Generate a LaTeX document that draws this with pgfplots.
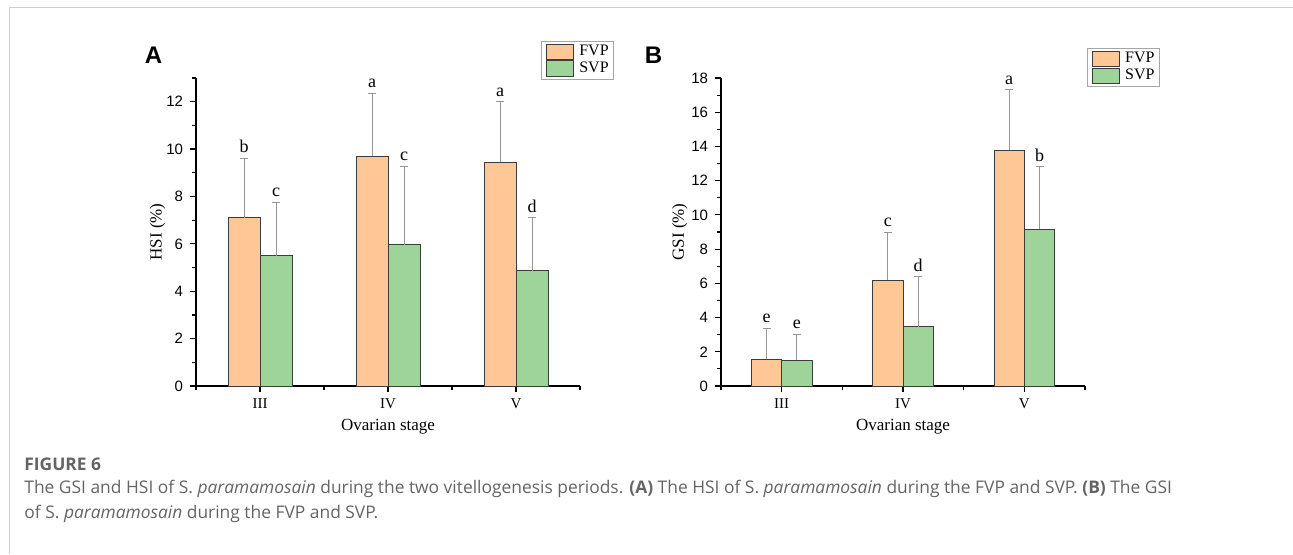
\documentclass[border=0pt]{standalone}
\usepackage{fontspec}
\usepackage{pgfplots}
\pgfplotsset{compat=1.18}
\setmainfont{Liberation Serif}
\newfontfamily\arialf{Liberation Sans}
\newfontfamily\capf{Open Sans}
\definecolor{fvp}{RGB}{255,199,150}
\definecolor{svp}{RGB}{158,212,154}
\definecolor{edge}{RGB}{60,60,60}
\definecolor{ebar}{RGB}{150,150,150}
\definecolor{frame}{RGB}{205,205,205}
\definecolor{captxt}{RGB}{100,100,100}
\tikzset{lettr/.style={anchor=south, font=\fontsize{9}{10}\selectfont, inner sep=1pt, yshift=1.5pt}}
\pgfplotsset{
  mybar/.style={
    scale only axis, clip=false,
    axis x line*=bottom, axis y line*=left,
    axis line style={line width=0.75pt, black},
    xmin=-0.5, xmax=2.5, ymin=0,
    xtick={0,1,2}, xticklabels={III,IV,V},
    minor xtick={-0.5,0.5,1.5,2.5},
    tick align=outside,
    major tick length=3pt, minor tick length=1.8pt,
    every tick/.style={black, line width=0.6pt},
    ybar=0pt, bar width=0.25,
    xticklabel style={font=\fontsize{7.5}{8}\selectfont},
    yticklabel style={font=\arialf\fontsize{7.5}{8}\selectfont},
    /pgf/number format/assume math mode=true,
    label style={font=\fontsize{8.5}{10}\selectfont},
    xlabel style={at={(axis description cs:0.5,0)}, anchor=center, yshift=-20.5pt},
    error bars/y dir=plus, error bars/y explicit,
    error bars/error bar style={ebar, line width=0.5pt},
    error bars/error mark options={rotate=90, ebar, mark size=2pt, line width=0.5pt},
    legend style={draw=gray!70, line width=0.5pt, font=\fontsize{8}{9}\selectfont,
      inner xsep=2pt, inner ysep=1pt, row sep=0pt, legend cell align=left,
      nodes={inner ysep=0.3pt, inner xsep=0.5pt, text height=5.8pt, text depth=2pt}},
    legend image code/.code={\draw[##1] (0pt,-3.9pt) rectangle (13.5pt,3.9pt); \path (-0.5pt,0) (15.5pt,0);},
  },
  fvpbar/.style={fill=fvp, draw=edge, line width=0.5pt},
  svpbar/.style={fill=svp, draw=edge, line width=0.5pt},
}
\begin{document}
\begin{tikzpicture}
\path[use as bounding box] (0,0) rectangle (646.5pt,277pt);
\draw[frame, line width=0.75pt] (4.75pt,0) -- (4.75pt,273.25pt) -- (646.5pt,273.25pt);

% Panel A
\begin{axis}[mybar, at={(98pt,84pt)}, anchor=south west,
  width=192pt, height=154pt, ymax=13,
  ytick={0,2,...,12}, minor ytick={1,3,...,13},
  ylabel={HSI (\%)}, xlabel={Ovarian stage},
  ylabel style={at={(axis description cs:-0.1,0.5)}, anchor=center, rotate=0},
  legend style={at={(axis description cs:1.089,1.12)}, anchor=north east}]
\addplot[fvpbar] coordinates {(0,7.1) +- (0,2.5) (1,9.7) +- (0,2.65) (2,9.45) +- (0,2.55)};
\addplot[svpbar] coordinates {(0,5.5) +- (0,2.25) (1,5.97) +- (0,3.3) (2,4.87) +- (0,2.23)};
\legend{FVP,SVP}
\node[lettr] at (axis cs:-0.125,9.6) {b};
\node[lettr] at (axis cs:0.125,7.75) {c};
\node[lettr] at (axis cs:0.875,12.35) {a};
\node[lettr] at (axis cs:1.125,9.27) {c};
\node[lettr] at (axis cs:1.875,12.0) {a};
\node[lettr] at (axis cs:2.125,7.1) {d};
\end{axis}

% Panel B
\begin{axis}[mybar, at={(360.5pt,84pt)}, anchor=south west,
  width=182pt, height=154pt, ymax=18,
  ytick={0,2,...,18}, minor ytick={1,3,...,17},
  ylabel={GSI (\%)}, xlabel={Ovarian stage},
  ylabel style={at={(axis description cs:-0.113,0.5)}, anchor=center, rotate=0},
  legend style={at={(axis description cs:1.206,1.097)}, anchor=north east}]
\addplot[fvpbar] coordinates {(0,1.57) +- (0,1.8) (1,6.18) +- (0,2.82) (2,13.78) +- (0,3.52)};
\addplot[svpbar] coordinates {(0,1.52) +- (0,1.51) (1,3.45) +- (0,2.93) (2,9.15) +- (0,3.65)};
\legend{FVP,SVP}
\node[lettr] at (axis cs:-0.125,3.37) {e};
\node[lettr] at (axis cs:0.125,3.03) {e};
\node[lettr] at (axis cs:0.875,9.0) {c};
\node[lettr] at (axis cs:1.125,6.38) {d};
\node[lettr] at (axis cs:1.875,17.3) {a};
\node[lettr] at (axis cs:2.125,12.8) {b};
\end{axis}

% Panel letters
\node[font=\arialf\bfseries\fontsize{12}{14}\selectfont] at (76.75pt,249.5pt) {A};
\node[font=\arialf\bfseries\fontsize{12}{14}\selectfont] at (326.75pt,249.5pt) {B};

% Caption
\node[anchor=base west, inner sep=0pt, text=captxt, font=\capf\bfseries\fontsize{8.7}{10}\selectfont] at (12pt,42pt) {FIGURE 6};
\node[anchor=base west, inner sep=0pt, text=captxt, font=\capf\fontsize{8.7}{10}\selectfont] at (12pt,30.5pt)
  {The GSI and HSI of S. \textit{paramamosain} during the two vitellogenesis periods. \textbf{(A)} The HSI of S. \textit{paramamosain} during the FVP and SVP. \textbf{(B)} The GSI};
\node[anchor=base west, inner sep=0pt, text=captxt, font=\capf\fontsize{8.7}{10}\selectfont] at (12pt,18pt)
  {of S. \textit{paramamosain} during the FVP and SVP.};
\end{tikzpicture}
\end{document}
